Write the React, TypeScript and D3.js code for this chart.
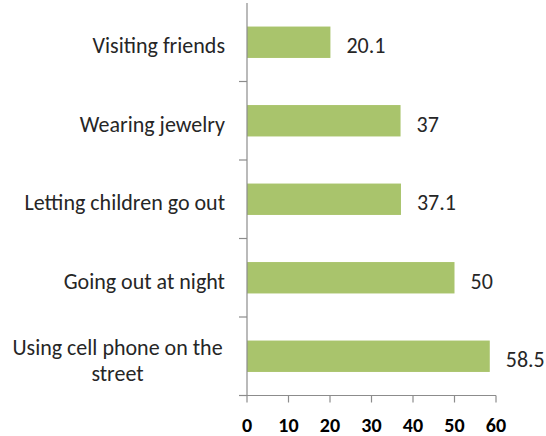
import React from "react";
import * as d3 from "d3";

const categories: string[][] = [
  ["Visiting friends"],
  ["Wearing jewelry"],
  ["Letting children go out"],
  ["Going out at night"],
  ["Using cell phone on the", "street"],
];
const values: number[] = [20.1, 37, 37.1, 50, 58.5];
const valueLabels: string[] = ["20.1", "37", "37.1", "50", "58.5"];
const xTicks: number[] = [0, 10, 20, 30, 40, 50, 60];

const W = 546;
const H = 436;
const FONT = "Carlito, Calibri, Lato, 'Open Sans', sans-serif";

export default function App() {
  const left = 247;
  const right = 496;
  const top = 3;
  const bottom = 395.5;

  const x = d3.scaleLinear().domain([0, 60]).range([left, right]);
  const y = d3
    .scaleBand<number>()
    .domain(d3.range(categories.length))
    .range([top, bottom])
    .paddingInner(0.6)
    .paddingOuter(0.3);
  const step = y.step();
  const boundaries = d3.range(1, categories.length + 1).map((i) => top + i * step);

  return (
    <svg
      width={W}
      height={H}
      style={{ position: "absolute", left: 0, top: 0, background: "#fff" }}
      fontFamily={FONT}
    >
      {values.map((v, i) => (
        <rect
          key={"b" + i}
          x={x(0)}
          y={y(i)!}
          width={x(v) - x(0)}
          height={y.bandwidth()}
          fill="#A9C46C"
        />
      ))}
      {values.map((v, i) => (
        <text
          key={"v" + i}
          x={x(v) + 16}
          y={y(i)! + y.bandwidth() / 2 + 3.5}
          dy="0.35em"
          fontSize={22}
          fill="#262626"
        >
          {valueLabels[i]}
        </text>
      ))}
      {categories.map((lines, i) => {
        const cy = y(i)! + y.bandwidth() / 2;
        if (lines.length === 1) {
          return (
            <text
              key={"c" + i}
              x={225}
              y={cy + 3.5}
              dy="0.35em"
              textAnchor="end"
              fontSize={22}
              fill="#262626"
            >
              {lines[0]}
            </text>
          );
        }
        return (
          <text key={"c" + i} textAnchor="middle" fontSize={22} fill="#262626">
            {lines.map((l, j) => (
              <tspan key={j} x={117.5} y={cy - 9 + j * 26} dy="0.35em">
                {l}
              </tspan>
            ))}
          </text>
        );
      })}
      <line x1={left} x2={left} y1={top} y2={bottom} stroke="#8c8c8c" strokeWidth={1.2} />
      {boundaries.map((b, i) => (
        <line key={"yt" + i} x1={left - 8} x2={left} y1={b} y2={b} stroke="#8c8c8c" strokeWidth={1.2} />
      ))}
      <line x1={left} x2={right} y1={bottom} y2={bottom} stroke="#8c8c8c" strokeWidth={1.2} />
      {xTicks.map((t) => (
        <g key={"xt" + t}>
          <line x1={x(t)} x2={x(t)} y1={bottom} y2={bottom + 7} stroke="#8c8c8c" strokeWidth={1.2} />
          <text
            x={x(t)}
            y={425}
            dy="0.35em"
            textAnchor="middle"
            fontSize={20}
            fontWeight="bold"
            fill="#000"
          >
            {t}
          </text>
        </g>
      ))}
    </svg>
  );
}
